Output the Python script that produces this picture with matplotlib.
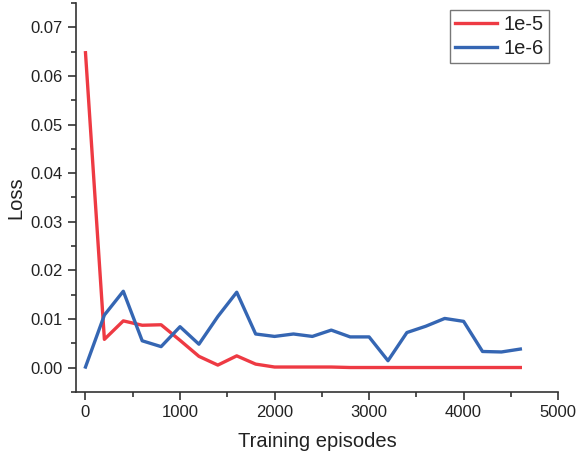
import matplotlib.pyplot as plt
from matplotlib.ticker import MultipleLocator

plt.rcParams['font.family'] = ['Liberation Sans', 'DejaVu Sans']
plt.rcParams['text.color'] = '#222222'
plt.rcParams['xtick.labelcolor'] = '#222222'
plt.rcParams['ytick.labelcolor'] = '#222222'
plt.rcParams['axes.labelcolor'] = '#222222'

episodes = [0, 200, 400, 600, 800, 1000, 1200, 1400, 1600, 1800, 2000, 2200,
            2400, 2600, 2800, 3000, 3200, 3400, 3600, 3800, 4000, 4200, 4400, 4600]
loss_1e5 = [0.0648, 0.0058, 0.0096, 0.0087, 0.0088, 0.0056, 0.0023, 0.0005,
            0.0024, 0.0007, 0.0001, 0.0001, 0.0001, 0.0001, 0.0000, 0.0000,
            0.0000, 0.0000, 0.0000, 0.0000, 0.0000, 0.0000, 0.0000, 0.0000]
loss_1e6 = [0.0001, 0.0108, 0.0157, 0.0055, 0.0043, 0.0084, 0.0048, 0.0105,
            0.0155, 0.0069, 0.0064, 0.0069, 0.0064, 0.0077, 0.0063, 0.0063,
            0.0014, 0.0072, 0.0085, 0.0101, 0.0095, 0.0033, 0.0032, 0.0038]

fig = plt.figure(figsize=(5.76, 4.54), dpi=100)
ax = fig.add_axes([0.132, 0.137, 0.837, 0.856])

ax.plot(episodes, loss_1e5, color='#ee3a43', lw=2.4, label='1e-5')
ax.plot(episodes, loss_1e6, color='#3566b3', lw=2.4, label='1e-6')

ax.set_xlim(-100, 5000)
ax.set_ylim(-0.005, 0.075)
ax.xaxis.set_major_locator(MultipleLocator(1000))
ax.xaxis.set_minor_locator(MultipleLocator(500))
ax.yaxis.set_major_locator(MultipleLocator(0.01))
ax.yaxis.set_minor_locator(MultipleLocator(0.005))
ax.yaxis.set_major_formatter(plt.FuncFormatter(lambda v, p: f'{v:.2f}'))

for s in ['top', 'right']:
    ax.spines[s].set_visible(False)
for s in ['left', 'bottom']:
    ax.spines[s].set_color('#333333')
    ax.spines[s].set_linewidth(1.2)
ax.tick_params(which='major', direction='out', length=6, width=1.2,
               color='#333333', labelsize=12)
ax.tick_params(which='minor', direction='out', length=3.5, width=1.2,
               color='#333333')

ax.set_xlabel('Training episodes', fontsize=14.5, labelpad=9)
ax.set_ylabel('Loss', fontsize=14.5)

leg = ax.legend(loc='upper right', bbox_to_anchor=(0.98, 0.983), fontsize=14.5,
                fancybox=False, framealpha=1, edgecolor='#777777',
                handlelength=2.1, borderaxespad=0, borderpad=0.25,
                labelspacing=0.25, handletextpad=0.3)
leg.get_frame().set_linewidth(1.0)

plt.savefig('out.png')
plt.close()
